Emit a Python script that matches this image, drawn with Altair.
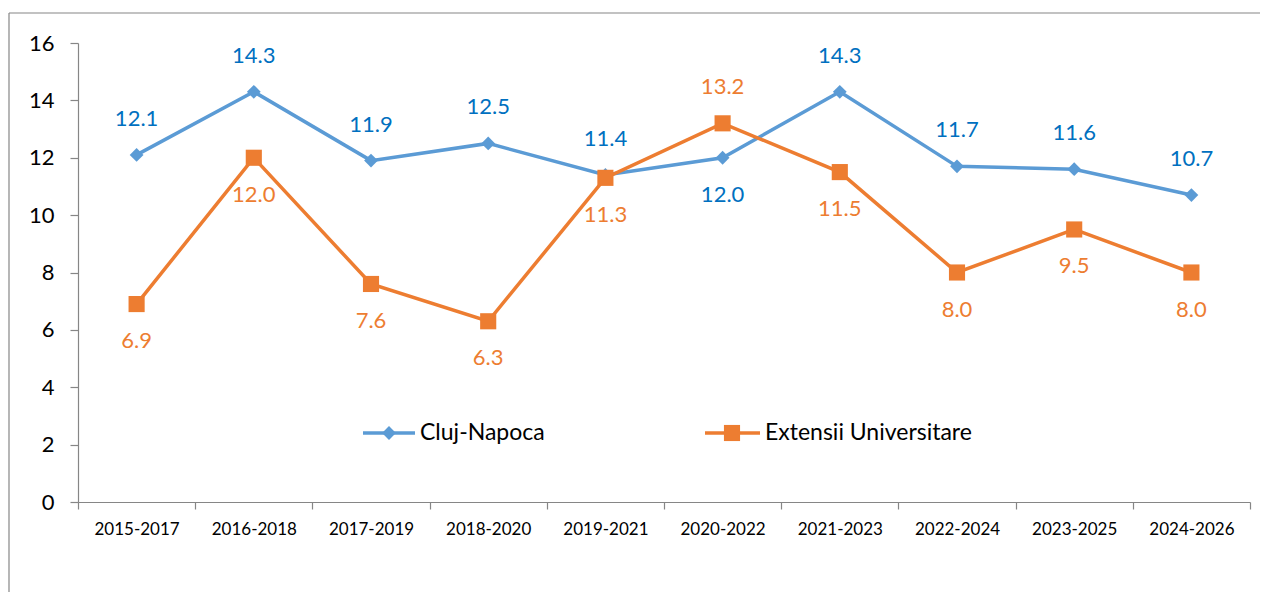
import altair as alt
import pandas as pd

periods = ["2015-2017", "2016-2018", "2017-2019", "2018-2020", "2019-2021",
           "2020-2022", "2021-2023", "2022-2024", "2023-2025", "2024-2026"]
cluj = [12.1, 14.3, 11.9, 12.5, 11.4, 12.0, 14.3, 11.7, 11.6, 10.7]
ext = [6.9, 12.0, 7.6, 6.3, 11.3, 13.2, 11.5, 8.0, 9.5, 8.0]
cluj_pos = ["above"] * 5 + ["below"] + ["above"] * 4
ext_pos = ["below"] * 5 + ["above"] + ["below"] * 4

series_names = ["Cluj-Napoca", "Extensii Universitare"]

rows = []
for p, v, lp in zip(periods, cluj, cluj_pos):
    rows.append({"period": p, "value": v, "series": series_names[0], "pos": lp})
for p, v, lp in zip(periods, ext, ext_pos):
    rows.append({"period": p, "value": v, "series": series_names[1], "pos": lp})
df = pd.DataFrame(rows)

FONT = "Lato"
BLUE = "#5B9BD5"
BLUE_TXT = "#0070C0"
ORANGE = "#ED7D31"
W, H = 1172, 459
PAD_R = 10
PAD_B = 90

x = alt.X("period:N", sort=periods, bandPosition=0.5,
          scale=alt.Scale(type="band", paddingInner=0, paddingOuter=0),
          axis=alt.Axis(title=None, labelAngle=0, tickBand="extent", labelFontSize=17,
                        labelFont=FONT, labelColor="#000000", domainColor="#868686",
                        tickColor="#868686", tickSize=7, labelPadding=12,
                        domainWidth=1.2, tickWidth=1.2))
y = alt.Y("value:Q", scale=alt.Scale(domain=[0, 16], nice=False),
          axis=alt.Axis(title=None, values=list(range(0, 17, 2)), grid=False,
                        labelFontSize=22, labelFont=FONT, labelColor="#000000",
                        domainColor="#868686", tickColor="#868686", tickSize=8,
                        labelPadding=16, domainWidth=1.2, tickWidth=1.2))

color = alt.Color("series:N", scale=alt.Scale(domain=series_names, range=[BLUE, ORANGE]), legend=None)

base = alt.Chart(df)

lines = base.mark_line(strokeWidth=3.5).encode(x=x, y=y, color=color, detail="series:N")
c_pts = base.transform_filter(alt.datum.series == series_names[0]).mark_point(
    shape="diamond", filled=True, size=190, opacity=1, color=BLUE).encode(x=x, y=y)
e_pts = base.transform_filter(alt.datum.series == series_names[1]).mark_point(
    shape="square", filled=True, size=260, opacity=1, color=ORANGE).encode(x=x, y=y)

def labels(series, pos, dy, col):
    return base.transform_filter(
        (alt.datum.series == series) & (alt.datum.pos == pos)
    ).mark_text(dy=dy, fontSize=22, font=FONT, color=col).encode(
        x=x, y=y, text=alt.Text("value:Q", format=".1f"))

lbls = (labels(series_names[0], "above", -36, BLUE_TXT)
        + labels(series_names[0], "below", 37, BLUE_TXT)
        + labels(series_names[1], "above", -36, ORANGE)
        + labels(series_names[1], "below", 37, ORANGE))

# manual legend
leg = pd.DataFrame({"name": series_names})
leg_c = alt.Chart(leg).transform_filter(alt.datum.name == series_names[0])
leg_e = alt.Chart(leg).transform_filter(alt.datum.name == series_names[1])
legend = (
    leg_c.mark_rule(color=BLUE, strokeWidth=3.5).encode(x=alt.value(285), x2=alt.value(337), y=alt.value(390))
    + leg_c.mark_point(shape="diamond", filled=True, size=190, opacity=1, color=BLUE).encode(x=alt.value(311), y=alt.value(390))
    + leg_c.mark_text(align="left", baseline="middle", fontSize=23, font=FONT, color="#000000").encode(
        x=alt.value(342), y=alt.value(390), text="name:N")
    + leg_e.mark_rule(color=ORANGE, strokeWidth=3.5).encode(x=alt.value(627), x2=alt.value(682), y=alt.value(390))
    + leg_e.mark_point(shape="square", filled=True, size=260, opacity=1, color=ORANGE).encode(x=alt.value(654), y=alt.value(390))
    + leg_e.mark_text(align="left", baseline="middle", fontSize=23, font=FONT, color="#000000").encode(
        x=alt.value(687), y=alt.value(390), text="name:N")
)

# outer chart frame (only top and left edges visible in the picture)
frame_src = alt.Chart(leg).transform_filter(alt.datum.name == series_names[0])
frame = (
    frame_src.mark_rule(color="#868686", strokeWidth=1.2).encode(
        x=alt.value(-69), x2=alt.value(W + PAD_R), y=alt.value(-30))
    + frame_src.mark_rule(color="#868686", strokeWidth=1.2).encode(
        x=alt.value(-69), y=alt.value(-30), y2=alt.value(H + PAD_B))
)

chart = alt.layer(frame, lines, c_pts, e_pts, lbls, legend).properties(
    width=W, height=H,
    autosize=alt.AutoSizeParams(type="none"),
    padding={"left": 70, "top": 35, "right": PAD_R, "bottom": PAD_B},
).configure(background="white").configure_view(stroke=None)

chart.save("out.html", embed_options={"renderer": "svg", "actions": False})
